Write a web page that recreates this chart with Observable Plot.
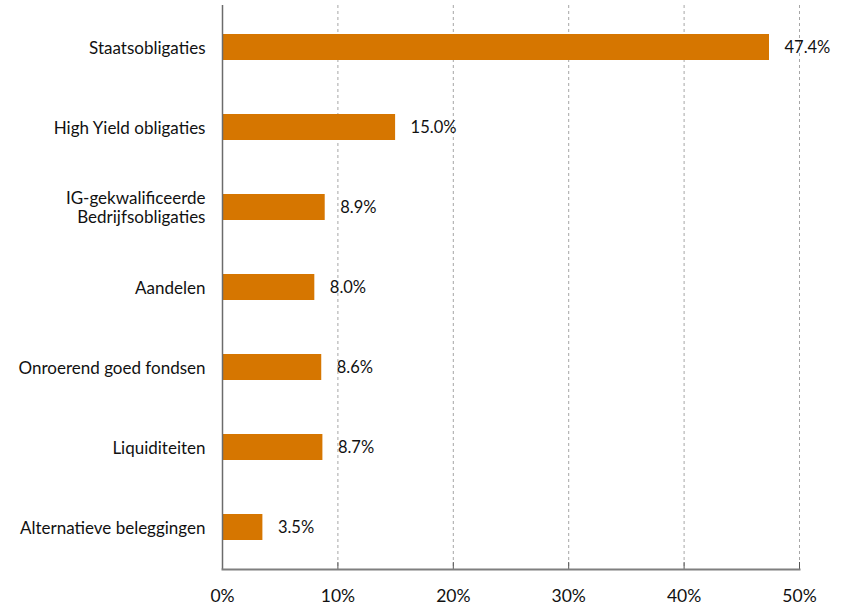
<!DOCTYPE html>
<html>
<head>
<meta charset="utf-8">
<script src="https://cdn.jsdelivr.net/npm/d3@7"></script>
<script src="https://cdn.jsdelivr.net/npm/@observablehq/plot@0.6"></script>
<style>
  html, body { margin: 0; padding: 0; background: #fff; }
  #chart svg { font-family: Lato, "Open Sans", sans-serif; }
</style>
</head>
<body>
<div id="chart"></div>
<script>
const categories = [
  "Staatsobligaties",
  "High Yield obligaties",
  "IG-gekwalificeerde\nBedrijfsobligaties",
  "Aandelen",
  "Onroerend goed fondsen",
  "Liquiditeiten",
  "Alternatieve beleggingen"
];
const values = [47.4, 15.0, 8.9, 8.0, 8.6, 8.7, 3.5];
const xTicks = [0, 10, 20, 30, 40, 50];
const gridTicks = [10, 20, 30, 40, 50];

const data = categories.map((c, i) => ({category: c, value: values[i]}));

const plot = Plot.plot({
  width: 851,
  height: 611,
  marginLeft: 222,
  marginRight: 52,
  marginTop: 5,
  marginBottom: 42,
  style: {fontFamily: "Lato, 'Open Sans', sans-serif", background: "#fff"},
  x: {domain: [0, 50], label: null},
  y: {domain: categories, paddingInner: 0.68, paddingOuter: 0.34, label: null},
  marks: [
    Plot.gridX(gridTicks, {stroke: "#a6a6a6", strokeOpacity: 1, strokeDasharray: "3,3", strokeWidth: 1}),
    Plot.barX(data, {x: "value", y: "category", fill: "#D67600"}),
    Plot.text(data, {x: "value", y: "category", text: d => d.value.toFixed(1) + "%", textAnchor: "start", dx: 15, fontSize: 16.5, fill: "#111"}),
    Plot.ruleX(xTicks, {stroke: "#555", insetTop: 557}),
    Plot.ruleX([0], {stroke: "#6b6b6b", strokeWidth: 1.5}),
    Plot.frame({anchor: "bottom", stroke: "#7f7f7f", strokeWidth: 2}),
    Plot.axisX(xTicks, {tickSize: 0, tickPadding: 20, fontSize: 17.5, tickFormat: d => d + "%", fill: "#111", label: null}),
    Plot.axisY({tickSize: 0, tickPadding: 17, fontSize: 17, fill: "#111", lineHeight: 1.12, label: null})
  ]
});
document.getElementById("chart").appendChild(plot);
</script>
</body>
</html>
